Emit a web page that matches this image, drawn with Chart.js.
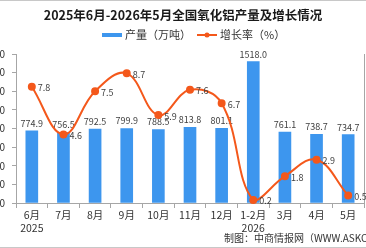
<!DOCTYPE html>
<html>
<head>
<meta charset="utf-8">
<script src="https://cdn.jsdelivr.net/npm/chart.js@4"></script>
<style>
  html, body { margin: 0; padding: 0; background: #fff; }
  #wrap { position: relative; width: 366px; height: 248px; overflow: hidden; box-sizing: border-box;
          border-top: 1px solid #c8c8c8; border-bottom: 1px solid #c8c8c8; }
  #c { position: absolute; left: -30px; top: -1px; }
</style>
</head>
<body>
<div id="wrap"><canvas id="c" width="426" height="248"></canvas></div>
<script>
// categories + series
const months = [["6月", "2025"], "7月", "8月", "9月", "10月", "11月", "12月", ["1-2月", "2026"], "3月", "4月", "5月"];
const output = [774.9, 756.5, 792.5, 799.9, 788.5, 813.8, 801.1, 1518.0, 761.1, 738.7, 734.7];
const growth = [7.8, 4.6, 7.5, 8.7, 5.9, 7.6, 6.7, 0.2, 1.8, 2.9, 0.5];
const outputTicks = { min: 0, max: 1600, step: 200 };
const growthTicks = { min: 0, max: 10 };

const BLUE = "#3d96ee", ORANGE = "#f4581b";
const FONT = '"Noto Sans CJK SC", "Noto Sans", sans-serif';
const SHIFT = 30; // canvas is shifted left so the left tick labels get clipped like the original

const labels = {
  id: "labels",
  afterDatasetDraw(chart, args) {
    // bar values go under the line, so draw them right after the bars
    if (args.index !== 0) return;
    const ctx = chart.ctx;
    ctx.save();
    ctx.font = "9px " + FONT;
    ctx.fillStyle = "#404040";
    ctx.textAlign = "center";
    ctx.textBaseline = "bottom";
    args.meta.data.forEach((b, i) => ctx.fillText(output[i].toFixed(1), b.x, b.y - 3));
    ctx.restore();
  },
  afterDatasetsDraw(chart) {
    const ctx = chart.ctx, meta = chart.getDatasetMeta(1);
    ctx.save();
    ctx.font = "9px " + FONT;
    ctx.fillStyle = "#404040";
    ctx.textAlign = "left";
    ctx.textBaseline = "middle";
    meta.data.forEach((p, i) => ctx.fillText(growth[i].toFixed(1), p.x + 6, p.y + 1));
    ctx.restore();
  },
  afterDraw(chart) {
    const ctx = chart.ctx;
    ctx.save();
    // title
    ctx.font = "bold 12.5px " + FONT;
    ctx.fillStyle = "#1a1a1a";
    ctx.textAlign = "center";
    ctx.textBaseline = "middle";
    ctx.fillText("2025年6月-2026年5月全国氧化铝产量及增长情况", 183 + SHIFT, 15);
    // legend
    ctx.font = "11px " + FONT;
    ctx.textAlign = "left";
    ctx.fillStyle = BLUE;
    ctx.fillRect(102 + SHIFT, 33, 20, 4);
    ctx.fillStyle = "#333";
    ctx.fillText("产量（万吨）", 125 + SHIFT, 35);
    ctx.strokeStyle = ORANGE;
    ctx.lineWidth = 2;
    ctx.beginPath(); ctx.moveTo(197 + SHIFT, 35); ctx.lineTo(217 + SHIFT, 35); ctx.stroke();
    ctx.fillStyle = ORANGE;
    ctx.beginPath(); ctx.arc(207 + SHIFT, 35, 2.5, 0, Math.PI * 2); ctx.fill();
    ctx.fillStyle = "#333";
    ctx.fillText("增长率（%）", 220 + SHIFT, 35);
    // source
    ctx.font = "10px " + FONT;
    ctx.fillText("制图：中商情报网（WWW.ASKCI.COM）", 224 + SHIFT, 238);
    ctx.restore();
  }
};

new Chart(document.getElementById("c"), {
  type: "bar",
  data: {
    labels: months,
    datasets: [
      { type: "bar", label: "产量（万吨）", data: output, backgroundColor: BLUE, yAxisID: "y",
        barThickness: 12, order: 1 },
      { type: "line", label: "增长率（%）", data: growth, borderColor: ORANGE, backgroundColor: ORANGE,
        borderWidth: 2, pointRadius: 3, pointHoverRadius: 3, tension: 0.4, yAxisID: "y1", order: 0, clip: false }
    ]
  },
  options: {
    responsive: false,
    animation: false,
    events: [],
    layout: { padding: { top: 54, left: 0, right: 0, bottom: 0 } },
    plugins: { legend: { display: false }, title: { display: false }, tooltip: { enabled: false } },
    scales: {
      x: {
        offset: true,
        grid: { display: true, offset: true, drawOnChartArea: false, tickLength: 5, color: "#a6a6a6" },
        border: { color: "#a6a6a6" },
        ticks: { color: "#333", font: { family: FONT, size: 10.5 }, padding: 1, maxRotation: 0, autoSkip: false },
        afterFit(s) { s.height = 45; }
      },
      y: {
        position: "left",
        min: outputTicks.min, max: outputTicks.max,
        ticks: { stepSize: outputTicks.step, color: "#333", font: { family: FONT, size: 10 }, padding: 7 },
        grid: { display: true, drawOnChartArea: false, tickLength: 4, color: "#a6a6a6" },
        border: { color: "#a6a6a6" },
        afterFit(s) { s.width = 46; }
      },
      y1: {
        position: "right",
        min: growthTicks.min, max: growthTicks.max,
        ticks: { display: false },
        grid: { display: false },
        border: { color: "#a6a6a6" },
        afterFit(s) { s.width = 32; }
      }
    }
  },
  plugins: [labels]
});
</script>
</body>
</html>
